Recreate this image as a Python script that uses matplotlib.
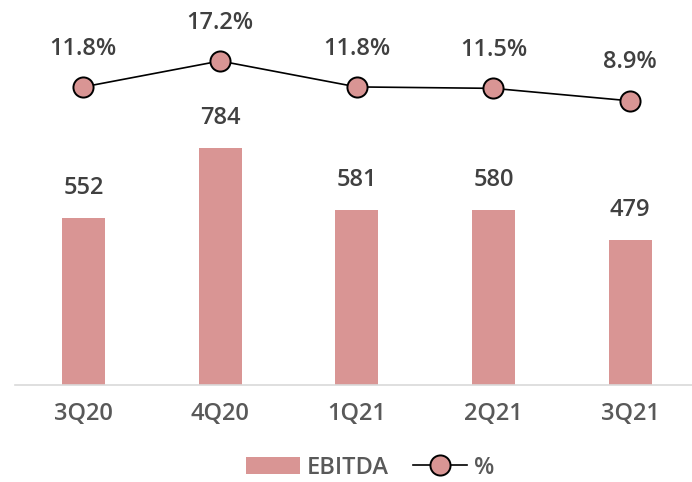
import matplotlib.pyplot as plt
import numpy as np

# data
quarters = ['3Q20', '4Q20', '1Q21', '2Q21', '3Q21']
ebitda = [552, 784, 581, 580, 479]
margin = [11.8, 17.2, 11.8, 11.5, 8.9]

barColor = '#D99594'
textColor = '#404040'

plt.rcParams['font.family'] = ['Open Sans', 'DejaVu Sans']

fig = plt.figure(figsize=(6.92, 4.82), dpi=100)
ax = fig.add_axes([0.0217, 0.201, 0.9876, 0.799])
x = np.arange(len(quarters))

bars = ax.bar(x, ebitda, width=0.314, color=barColor, label='EBITDA', zorder=2)
ax.set_ylim(0, 1275)
ax.set_xlim(-0.5, len(quarters) - 0.5)
for xi, v in zip(x, ebitda):
    ax.annotate(str(v), (xi, v), xytext=(0, 13), textcoords='offset points',
                ha='center', va='bottom', fontsize=17, color=textColor,
                fontweight='semibold')

for s in ['top', 'right', 'left']:
    ax.spines[s].set_visible(False)
ax.spines['bottom'].set_color('#D9D9D9')
ax.spines['bottom'].set_linewidth(1.2)
ax.set_yticks([])
ax.set_xticks(x)
ax.set_xticklabels(quarters, fontsize=17, color='#595959', fontweight='semibold')
ax.tick_params(axis='x', length=0, pad=12)

ax2 = ax.twinx()
ax2.set_ylim(-50.3, 29.9)
ax2.axis('off')
line, = ax2.plot(x, margin, color='black', linewidth=1.2, marker='o',
                 markersize=14.5, markerfacecolor=barColor,
                 markeredgecolor='black', markeredgewidth=1.4, label='%', zorder=3)
for xi, v in zip(x, margin):
    ax2.annotate(f'{v:.1f}%', (xi, v), xytext=(0, 19), textcoords='offset points',
                 ha='center', va='bottom', fontsize=17, color=textColor,
                 fontweight='semibold')

fig.legend([bars, line], ['EBITDA', '%'], loc='center', ncol=2,
           bbox_to_anchor=(0.535, 0.03), frameon=False,
           prop={'size': 17, 'weight': 'semibold'},
           labelcolor='#595959', handlelength=2.3, columnspacing=1.0,
           handletextpad=0.3)

plt.savefig('out.png', dpi=100)
